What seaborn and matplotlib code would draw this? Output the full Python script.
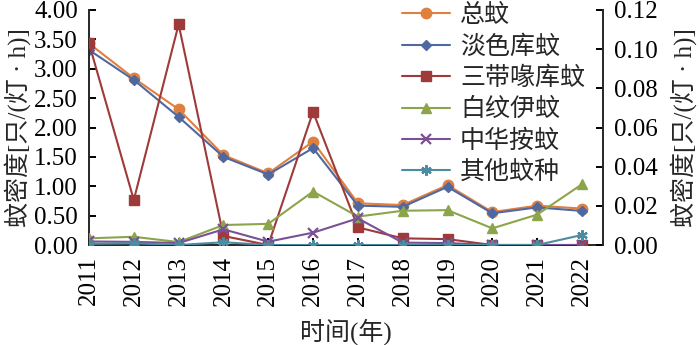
import matplotlib
matplotlib.use("Agg")
import matplotlib.pyplot as plt
import seaborn as sns
import numpy as np
import pandas as pd
from matplotlib.ticker import FormatStrFormatter, MultipleLocator

years = [2011, 2012, 2013, 2014, 2015, 2016, 2017, 2018, 2019, 2020, 2021, 2022]
# left axis (只/(灯·h))
total = [3.43, 2.84, 2.31, 1.53, 1.22, 1.76, 0.71, 0.68, 1.02, 0.56, 0.67, 0.62]
pipiens = [3.32, 2.81, 2.18, 1.50, 1.20, 1.65, 0.67, 0.65, 0.99, 0.54, 0.64, 0.58]
# right axis (只/(灯·h))
tritaeniorhynchus = [0.103, 0.023, 0.1127, 0.0046, 0.0, 0.068, 0.009, 0.0034, 0.003, 0.0, 0.0, 0.0]
albopictus = [0.0034, 0.0042, 0.0015, 0.0102, 0.0108, 0.0273, 0.0145, 0.0175, 0.0178, 0.0085, 0.0155, 0.0310]
sinensis = [0.0018, 0.0016, 0.0010, 0.0080, 0.0017, 0.0063, 0.0136, 0.0012, 0.0010, 0.0, 0.0, 0.0]
others = [0.0006, 0.0009, 0.0, 0.0014, 0.0, 0.0, 0.0, 0.0, 0.0, 0.0, 0.0, 0.0051]

names = ["总蚊", "淡色库蚊", "三带喙库蚊", "白纹伊蚊", "中华按蚊", "其他蚊种"]
colors = ["#e0803f", "#5068a0", "#9e3a3a", "#8ca54b", "#7a5096", "#4b8ca0"]
markers = ["o", "D", "s", "^", "x", (6, 2, 0)]
msizes = [7.5, 5.5, 7.5, 7.5, 6.5, 7.5]

sns.set_style("ticks")
plt.rcParams["font.family"] = ["Liberation Serif", "Noto Sans CJK SC", "DejaVu Sans"]
plt.rcParams["font.size"] = 18
plt.rcParams["axes.linewidth"] = 1.4

fig = plt.figure(figsize=(7.0, 3.45), dpi=100)
ax1 = fig.add_axes([89 / 700, 1 - 245 / 345, (603 - 89) / 700, (245 - 10) / 345])
ax2 = ax1.twinx()

series = [(ax1, total), (ax1, pipiens), (ax2, tritaeniorhynchus),
          (ax2, albopictus), (ax2, sinensis), (ax2, others)]
handles = []
for i, (ax, vals) in enumerate(series):
    df = pd.DataFrame({"year": years, "val": vals})
    sns.lineplot(data=df, x="year", y="val", ax=ax, color=colors[i],
                 marker=markers[i], markersize=msizes[i], markeredgecolor=colors[i],
                 markeredgewidth=1.6 if i >= 4 else 1.0, linewidth=1.5, legend=False)
    handles.append(ax.lines[-1])

ax1.set_xlim(2011, 2022.47)
ax1.set_ylim(0, 4.0)
ax2.set_ylim(0, 0.12)
ax1.yaxis.set_major_locator(MultipleLocator(0.5))
ax1.yaxis.set_major_formatter(FormatStrFormatter("%.2f"))
ax2.yaxis.set_major_locator(MultipleLocator(0.02))
ax2.yaxis.set_major_formatter(FormatStrFormatter("%.2f"))
ax1.set_xticks(years)
ax1.set_xticklabels([str(y) for y in years], rotation=90)

for ax in (ax1, ax2):
    ax.spines["top"].set_visible(False)
    ax.tick_params(direction="in", length=5, width=1.4, pad=8, labelsize=18, colors="black")
ax1.spines["right"].set_visible(False)
ax2.spines["left"].set_visible(False)
ax2.spines["bottom"].set_visible(False)

ylab = "蚊密度[只/(灯 · h)]"
ax1.set_ylabel(ylab, fontsize=18, labelpad=2)
ax2.set_ylabel(ylab, fontsize=18, labelpad=9)
ax1.set_xlabel("时间(年)", fontsize=18, labelpad=9)

ax2.legend(handles, names, loc="upper left", bbox_to_anchor=(402 / 700, 1 - 4 / 345),
           bbox_transform=fig.transFigure, frameon=False, borderpad=0, borderaxespad=0,
           handlelength=1.92, handletextpad=0.4, labelspacing=0.32, fontsize=18)

fig.savefig("out.png", dpi=100)
